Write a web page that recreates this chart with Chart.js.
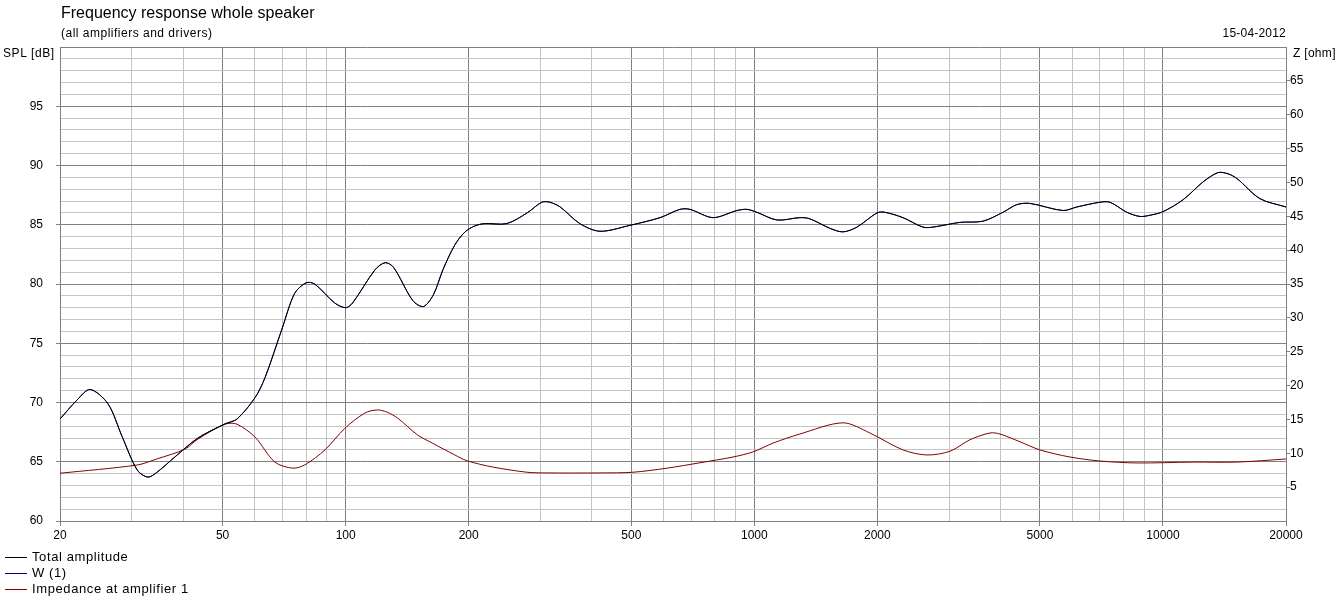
<!DOCTYPE html>
<html>
<head>
<meta charset="utf-8">
<script src="https://cdn.jsdelivr.net/npm/chart.js@4"></script>
<style>
  body { margin: 0; background: #fff; font-family: "Liberation Sans", Arial, sans-serif; color: #000; }
  #wrap { position: relative; width: 1343px; height: 602px; }
  #wrap canvas { position: absolute; left: 0; top: 0; }
  .txt { position: absolute; font-size: 12px; line-height: 14px; white-space: nowrap; }
  #title { left: 61px; top: 4px; font-size: 16px; line-height: 18px; }
  #sub { left: 61px; top: 26px; letter-spacing: 0.5px; }
  #date { right: 57px; top: 26px; letter-spacing: 0.2px; }
  #splTitle { left: 3px; top: 46px; letter-spacing: 0.6px; }
  #zTitle { left: 1293px; top: 46px; letter-spacing: 0.3px; }
  #legend { position: absolute; left: 5px; top: 549px; }
  .item { height: 16px; font-size: 13px; line-height: 16px; letter-spacing: 0.6px; white-space: nowrap; display: flex; align-items: flex-start; }
  .swatch { width: 22px; height: 0; border-top: 1px solid; margin-top: 8px; margin-right: 5px; }
</style>
</head>
<body>
<div id="wrap">
  <canvas id="fr" width="1343" height="602"></canvas>
  <div class="txt" id="title">Frequency response whole speaker</div>
  <div class="txt" id="sub">(all amplifiers and drivers)</div>
  <div class="txt" id="date">15-04-2012</div>
  <div class="txt" id="splTitle">SPL [dB]</div>
  <div class="txt" id="zTitle">Z [ohm]</div>
  <div id="legend"></div>
</div>
<script>
// SPL of the whole speaker (dB)
const splFreq = [20, 22, 23.7, 26.2, 28.4, 30.9, 32.8, 34.5, 38.2, 43.5,
  50.7, 54.2, 60, 63.5, 70, 75, 80, 84, 94, 100,
  104, 118, 125, 131, 146, 155, 164, 173, 185, 196,
  207, 219, 248, 278, 302, 316, 335, 374, 419, 496,
  588, 658, 696, 792, 907, 959, 1015, 1136, 1293, 1368,
  1531, 1648, 1783, 1996, 2088, 2310, 2586, 2736, 3186, 3626,
  4058, 4390, 4726, 5692, 6156, 7010, 7416, 8162, 8782, 9290,
  9992, 11190, 12520, 13630, 14420, 15170, 17270, 20000];
const splValues = [68.6, 70.2, 71.1, 69.9, 67.1, 64.3, 63.7, 64.1, 65.4, 67.0,
  68.2, 68.6, 70.4, 72.1, 76.3, 79.2, 80.1, 80.0, 78.4, 78.0,
  78.4, 81.2, 81.8, 81.4, 78.6, 78.1, 79.1, 81.2, 83.3, 84.4,
  84.9, 85.1, 85.1, 86.0, 86.9, 86.9, 86.5, 85.1, 84.45, 84.95,
  85.6, 86.3, 86.3, 85.6, 86.2, 86.3, 86.05, 85.4, 85.6, 85.5,
  84.7, 84.4, 84.8, 86.0, 86.05, 85.6, 84.8, 84.8, 85.2, 85.3,
  86.05, 86.7, 86.8, 86.2, 86.5, 86.9, 86.9, 86.05, 85.7, 85.8,
  86.1, 87.1, 88.6, 89.4, 89.3, 88.9, 87.2, 86.5];

// impedance at amplifier 1 (ohm)
const zFreq = [20, 30.9, 34.5, 40.4, 43.5, 50.7, 54.2, 60, 67.1, 74.3,
  79.5, 89, 99.6, 111.5, 119.3, 126, 134, 150, 163, 185,
  198, 229, 278, 311, 419, 505, 611, 736, 887, 992,
  1111, 1293, 1648, 1918, 2310, 2646, 3011, 3370, 3772, 3990,
  4468, 4998, 5920, 7010, 8636, 11840, 15170, 20000];
const zValues = [7.05, 8.27, 9.16, 10.6, 12.1, 14.3, 14.3, 12.4, 8.7, 7.8,
  8.3, 10.5, 13.7, 15.95, 16.4, 16.1, 15.2, 12.7, 11.5, 9.75,
  8.9, 7.97, 7.2, 7.1, 7.1, 7.2, 7.8, 8.6, 9.45, 10.2,
  11.5, 12.85, 14.5, 13.0, 10.5, 9.75, 10.3, 12.0, 13.0, 12.85,
  11.7, 10.5, 9.45, 8.86, 8.57, 8.7, 8.7, 9.16];

const xGrid = [20, 30, 40, 50, 60, 70, 80, 90, 100, 200, 300, 400, 500, 600, 700, 800, 900,
  1000, 2000, 3000, 4000, 5000, 6000, 7000, 8000, 9000, 10000, 20000];
const xLabels = [20, 50, 100, 200, 500, 1000, 2000, 5000, 10000, 20000];
const splLabels = [60, 65, 70, 75, 80, 85, 90, 95];
const zLabels = [5, 10, 15, 20, 25, 30, 35, 40, 45, 50, 55, 60, 65];

const major = '#808080';
const minor = '#c4c4c4';
const none = 'rgba(0,0,0,0)';

function pts(xs, ys) {
  return xs.map((x, i) => ({ x: x, y: ys[i] }));
}

Chart.defaults.font.family = '"Liberation Sans", Arial, sans-serif';
Chart.defaults.font.size = 12;
Chart.defaults.color = '#000';

const chart = new Chart(document.getElementById('fr'), {
  type: 'line',
  data: {
    datasets: [
      { label: 'Total amplitude', data: pts(splFreq, splValues), borderColor: '#000000', yAxisID: 'y' },
      { label: 'W (1)', data: pts(splFreq, splValues), borderColor: '#000080', yAxisID: 'y' },
      { label: 'Impedance at amplifier 1', data: pts(zFreq, zValues), borderColor: '#800000', yAxisID: 'y1' }
    ]
  },
  options: {
    responsive: false,
    animation: false,
    layout: { padding: { top: 47 } },
    elements: {
      line: { borderWidth: 1, tension: 0.3, fill: false },
      point: { radius: 0 }
    },
    plugins: { legend: { display: false }, tooltip: { enabled: false } },
    scales: {
      x: {
        type: 'logarithmic',
        min: 20,
        max: 20000,
        afterBuildTicks: s => { s.ticks = xGrid.map(v => ({ value: v })); },
        afterFit: s => { s.height = 81; },
        ticks: {
          autoSkip: false, maxRotation: 0, padding: 2,
          callback: v => xLabels.includes(v) ? String(v) : ''
        },
        grid: {
          color: c => (c.tick && xLabels.includes(c.tick.value)) ? major : minor,
          tickColor: c => (c.tick && xLabels.includes(c.tick.value)) ? major : none,
          tickLength: 5
        },
        border: { color: major }
      },
      y: {
        position: 'left',
        min: 60,
        max: 100,
        afterFit: s => { s.width = 60; },
        ticks: {
          stepSize: 1, autoSkip: false, padding: 13,
          callback: v => splLabels.includes(v) ? String(v) : ''
        },
        grid: {
          color: c => (c.tick && c.tick.value % 5 === 0) ? major : minor,
          tickColor: c => (c.tick && splLabels.includes(c.tick.value)) ? major : none,
          tickLength: 4
        },
        border: { color: major }
      },
      y1: {
        position: 'right',
        min: 0,
        max: 70,
        afterFit: s => { s.width = 57; },
        ticks: {
          stepSize: 5, autoSkip: false, padding: 0,
          callback: v => zLabels.includes(v) ? String(v) : ''
        },
        grid: {
          drawOnChartArea: false,
          tickColor: c => (c.tick && zLabels.includes(c.tick.value)) ? major : none,
          tickLength: 4
        },
        border: { color: major }
      }
    }
  }
});

// legend stacked under the plot like the original
const legend = document.getElementById('legend');
chart.data.datasets.forEach(ds => {
  const row = document.createElement('div');
  row.className = 'item';
  const sw = document.createElement('span');
  sw.className = 'swatch';
  sw.style.borderTopColor = ds.borderColor;
  const label = document.createElement('span');
  label.textContent = ds.label;
  row.appendChild(sw);
  row.appendChild(label);
  legend.appendChild(row);
});
</script>
</body>
</html>
